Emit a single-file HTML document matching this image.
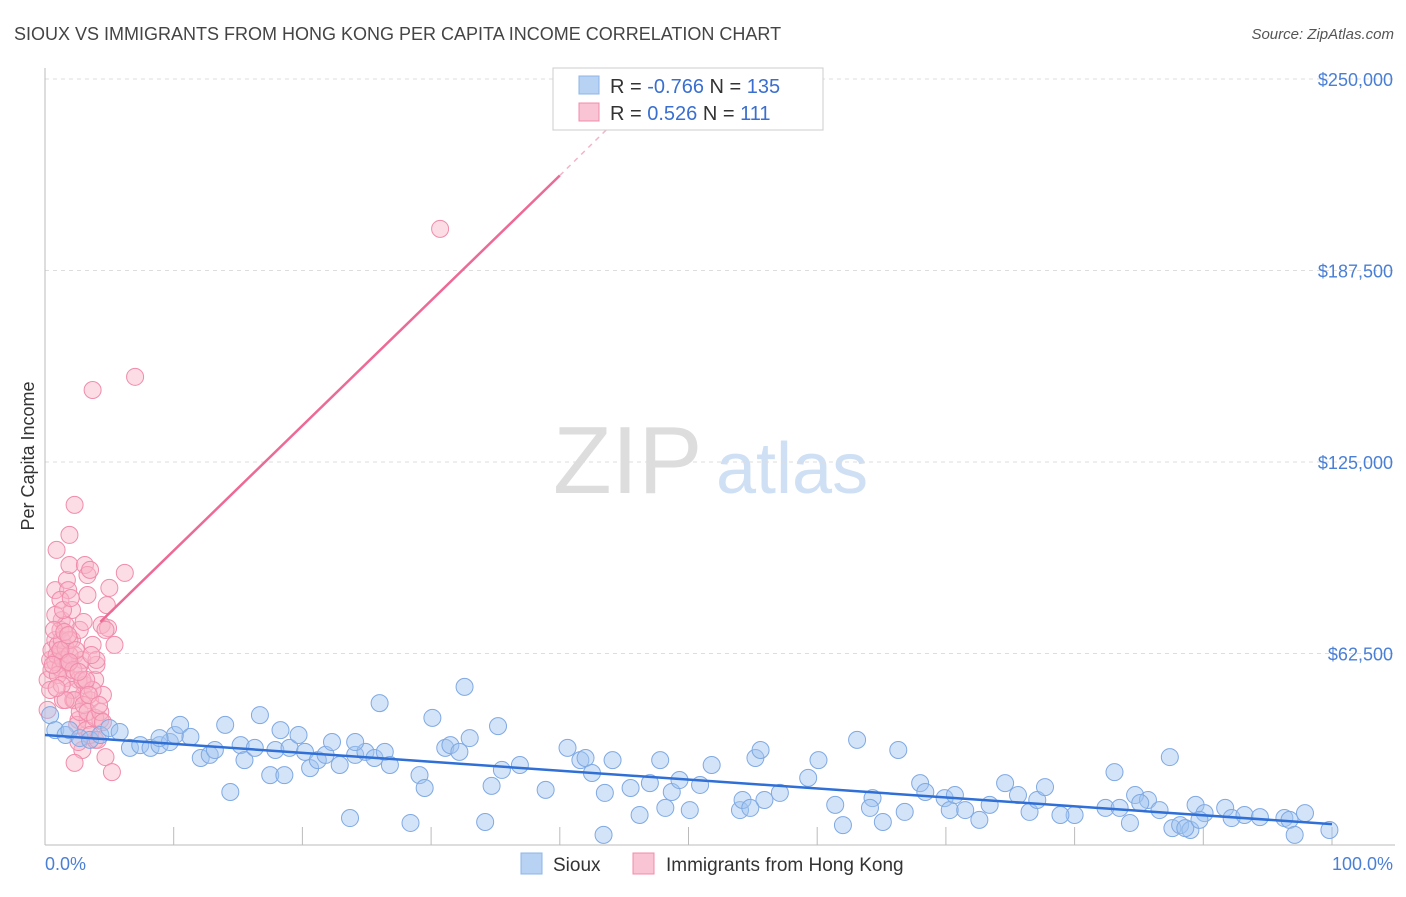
<!DOCTYPE html>
<html><head><meta charset="utf-8">
<style>
body{margin:0;background:#fff;font-family:"Liberation Sans",sans-serif;}
svg text{font-family:"Liberation Sans",sans-serif;}
</style></head>
<body>
<svg id="chart" width="1406" height="892" xmlns="http://www.w3.org/2000/svg">
<text x="14" y="40" font-size="18" fill="#444">SIOUX VS IMMIGRANTS FROM HONG KONG PER CAPITA INCOME CORRELATION CHART</text>
<text x="1394" y="39" font-size="15" fill="#555" text-anchor="end" font-style="italic">Source: ZipAtlas.com</text>
<g>
<text x="553" y="493" font-size="96" fill="#ddd" font-family="Liberation Serif, serif">ZIP</text>
<text x="716" y="493" font-size="72" fill="#cfe0f5">atlas</text>
</g>
<g id="grid"></g>
<g id="axes"></g>
<g id="pinkPts"></g>
<g id="bluePts"></g>
<g id="trends"></g>
<text transform="translate(34,456) rotate(-90)" font-size="18" fill="#333" text-anchor="middle">Per Capita Income</text>
<g>
<rect x="553" y="68" width="270" height="62" fill="#fff" stroke="#ccc"/>
<rect x="579" y="76" width="20" height="18" fill="#b8d2f3" stroke="#8db4e8"/>
<rect x="579" y="103" width="20" height="18" fill="#f9c4d4" stroke="#f08cab"/>
<text x="610" y="93" font-size="20" fill="#333">R = <tspan fill="#3a6fd0">-0.766</tspan>   N = <tspan fill="#3a6fd0">135</tspan></text>
<text x="610" y="120" font-size="20" fill="#333">R =  <tspan fill="#3a6fd0">0.526</tspan>   N =  <tspan fill="#3a6fd0">111</tspan></text>
</g>
<g>
<rect x="521" y="853" width="21" height="21" fill="#b8d2f3" stroke="#8db4e8"/>
<text x="553" y="871" font-size="19" fill="#333">Sioux</text>
<rect x="633" y="853" width="21" height="21" fill="#f9c4d4" stroke="#f08cab"/>
<text x="666" y="871" font-size="19" fill="#333">Immigrants from Hong Kong</text>
</g>
</svg>
<script>
const yTicks=[62500,125000,187500,250000];
const yTickLabels=["$62,500","$125,000","$187,500","$250,000"];
const xTickLabels=["0.0%","100.0%"];
const blueX=[0.4,0.8,1.6,1.9,2.7,3.5,4.3,5.0,5.8,6.6,7.4,8.2,8.9,9.7,10.1,10.5,11.3,12.1,12.8,13.2,14.0,14.4,15.2,15.5,16.3,16.7,17.5,17.9,18.3,18.6,19.0,19.7,20.2,20.6,21.2,21.8,22.3,22.9,23.7,24.1,24.9,25.6,26.0,26.4,26.8,28.4,29.1,29.5,30.1,31.1,31.5,32.2,32.6,33.0,34.2,34.7,35.2,35.5,36.9,38.9,40.6,41.6,42.0,42.5,43.4,43.5,44.1,45.5,46.2,47.0,47.8,48.2,48.7,49.3,50.1,50.9,51.8,54.0,54.2,55.2,55.6,55.9,57.1,59.3,60.1,61.4,62.0,63.1,64.3,65.1,66.3,66.8,68.0,68.4,69.9,70.3,70.7,71.5,72.6,74.6,75.6,76.5,77.1,77.7,80.0,82.4,83.1,83.5,84.3,84.7,85.7,86.6,87.4,87.6,88.2,89.0,89.4,90.1,91.7,92.2,93.2,94.4,96.3,96.7,97.1,97.9,99.8,88.6,89.7,85.1,78.9,73.4,64.1,54.8,24.1,8.9];
const blueY=[42.4,37.5,35.9,37.5,34.9,34.3,35.9,38.2,36.9,31.7,32.6,31.7,32.6,33.6,35.9,39.2,35.3,28.4,29.4,31.0,39.2,17.3,32.6,27.7,31.7,42.4,22.8,31.0,37.5,22.8,31.7,35.9,30.4,25.1,27.7,29.4,33.6,26.1,8.8,29.4,30.4,28.4,46.3,30.4,26.1,7.2,22.8,18.6,41.5,31.7,32.6,30.4,51.6,34.9,7.5,19.3,38.8,24.5,26.1,18.0,31.7,27.7,28.4,23.5,3.3,17.0,27.7,18.6,9.8,20.2,27.7,12.1,17.3,21.2,11.4,19.6,26.1,11.4,14.7,28.4,31.0,14.7,17.0,21.9,27.7,13.1,6.5,34.3,15.3,7.5,31.0,10.8,20.2,17.3,15.3,11.4,16.3,11.4,8.2,20.2,16.3,10.8,14.7,18.9,9.8,12.1,23.8,12.1,7.2,16.3,14.7,11.4,28.7,5.5,6.5,4.9,13.1,10.4,12.1,8.8,9.8,9.1,8.8,8.2,3.3,10.4,4.9,5.5,8.2,13.7,9.8,13.1,12.1,12.1,33.6,34.9];
const pinkX=[0.2,0.4,0.5,0.8,0.8,0.9,1.2,1.2,1.3,1.4,1.6,1.6,1.7,1.8,1.9,1.9,2.1,2.1,2.2,2.3,2.3,2.6,2.6,2.7,2.7,2.9,2.9,3.0,3.1,3.1,3.3,3.3,3.3,3.5,3.5,3.7,3.7,3.9,3.9,4.0,4.3,4.4,4.5,4.7,4.8,4.9,5.0,5.2,5.4,6.2,7.0,0.2,0.4,0.5,0.8,0.9,1.0,1.2,1.3,1.4,1.6,1.7,1.8,1.9,2.1,2.2,2.3,2.5,2.6,2.7,2.9,3.0,3.2,3.3,3.5,3.7,3.9,4.1,4.3,4.5,30.7,1.2,1.6,1.9,0.8,1.0,1.3,1.6,2.3,0.7,1.5,2.4,3.2,4.0,4.7,1.2,1.9,2.6,3.4,4.2,0.6,0.9,1.4,1.8,2.0,3.0,3.6];
const pinkY=[53.9,60.4,63.6,66.9,83.2,96.3,62.0,70.2,73.4,47.3,60.4,57.1,86.5,83.2,91.4,101.2,76.7,66.9,47.3,62.0,111.0,53.9,40.8,70.2,58.8,60.4,31.0,49.0,91.4,52.2,81.6,88.1,40.8,47.3,89.8,148.5,65.3,53.9,34.3,58.8,40.8,71.8,49.0,28.7,78.3,70.8,83.9,23.8,65.3,88.8,152.8,44.1,50.6,57.1,59.7,62.0,65.3,57.8,66.9,60.4,64.3,54.5,59.4,62.0,50.6,57.1,47.3,39.2,33.6,43.4,53.9,45.7,37.5,43.4,35.9,50.6,41.5,34.3,43.4,40.1,201.1,80.0,71.8,66.9,75.1,55.5,52.2,47.3,26.8,70.2,69.5,63.6,53.9,60.4,70.2,63.6,59.7,56.5,49.0,45.7,58.8,51.2,76.7,68.5,80.6,72.8,62.0];
const blueTrend=[[0,35.9],[100,6.8]];
const pinkTrend=[[4.3,72.8],[40.0,218.5]];
const pinkDash=[[40.0,218.5],[44.0,235]];

const NS="http://www.w3.org/2000/svg";
const X0=45,X1=1332,Y0=845,Y1=79;
const xs=v=>X0+(v/100)*(X1-X0);
const ys=v=>Y0-(v/250000)*(Y0-Y1);
const ysk=v=>ys(v*1000);
function mk(tag,attrs,parent){const e=document.createElementNS(NS,tag);for(const k in attrs)e.setAttribute(k,attrs[k]);document.getElementById(parent).appendChild(e);return e;}

yTicks.forEach((t,i)=>{
  const l=mk('line',{x1:X0,x2:1395,y1:ys(t),y2:ys(t),stroke:'#ddd','stroke-dasharray':'4,4'},'grid');
  
  
  const tx=mk('text',{x:1393,y:ys(t)+7,'font-size':18,fill:'#4a7fd6','text-anchor':'end'},'axes');
  tx.textContent=yTickLabels[i];
  
  
});
let ax=mk('line',{x1:X0,x2:X0,y1:68,y2:Y0,stroke:'#bbb'},'axes');


ax=mk('line',{x1:X0,x2:1395,y1:Y0,y2:Y0,stroke:'#bbb'},'axes');


for(let i=0;i<=10;i++){
  const t=mk('line',{x1:xs(i*10),x2:xs(i*10),y1:Y0,y2:Y0-18,stroke:'#bbb'},'axes');
  
  
}
let xl=mk('text',{x:45,y:870,'font-size':18,fill:'#4a7fd6'},'axes');
xl.textContent=xTickLabels[0];


xl=mk('text',{x:1393,y:870,'font-size':18,fill:'#4a7fd6','text-anchor':'end'},'axes');
xl.textContent=xTickLabels[1];



pinkX.forEach((x,i)=>{
  const c=mk('circle',{cx:xs(x),cy:ysk(pinkY[i]),r:8.5,fill:'rgba(248,180,200,0.45)',stroke:'#f08cab','stroke-width':1},'pinkPts');
  
  
});
blueX.forEach((x,i)=>{
  const c=mk('circle',{cx:xs(x),cy:ysk(blueY[i]),r:8.5,fill:'rgba(160,196,240,0.45)',stroke:'#7fa9e3','stroke-width':1},'bluePts');
  
  
});
let tl=mk('line',{x1:xs(blueTrend[0][0]),y1:ysk(blueTrend[0][1]),x2:xs(blueTrend[1][0]),y2:ysk(blueTrend[1][1]),stroke:'#2f6fd6','stroke-width':2.5},'trends');


tl=mk('line',{x1:xs(pinkTrend[0][0]),y1:ysk(pinkTrend[0][1]),x2:xs(pinkTrend[1][0]),y2:ysk(pinkTrend[1][1]),stroke:'#ec6a95','stroke-width':2.5},'trends');


tl=mk('line',{x1:xs(pinkDash[0][0]),y1:ysk(pinkDash[0][1]),x2:xs(pinkDash[1][0]),y2:ysk(pinkDash[1][1]),stroke:'#f3b3c8','stroke-width':1.5,'stroke-dasharray':'5,5'},'trends');


</script>
</body></html>
